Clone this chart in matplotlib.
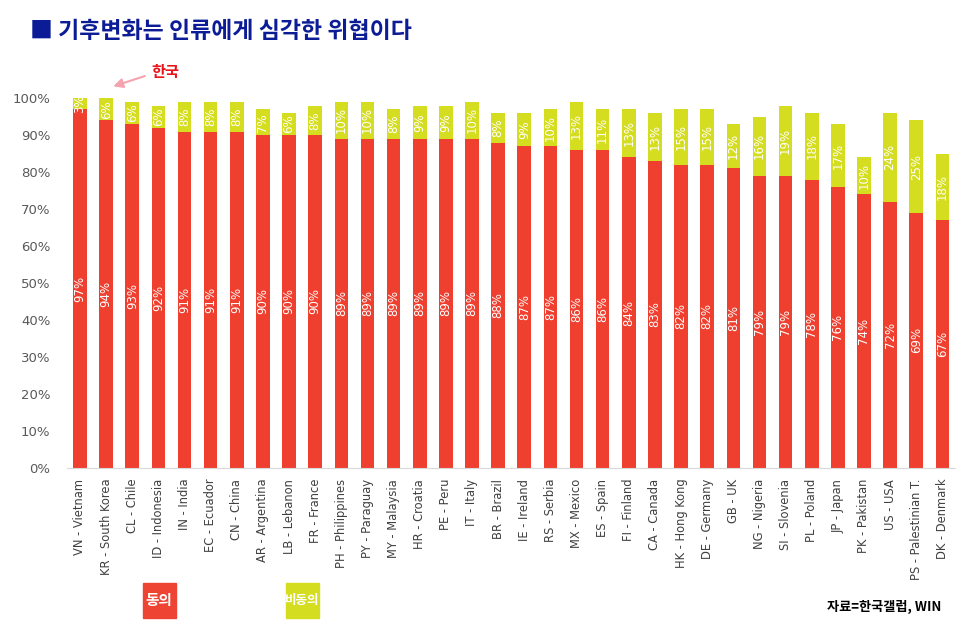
import matplotlib.pyplot as plt
from matplotlib.patches import Rectangle

plt.rcParams['font.family'] = ['Noto Sans CJK KR', 'DejaVu Sans']

countries = ['VN - Vietnam', 'KR - South Korea', 'CL - Chile', 'ID - Indonesia',
             'IN - India', 'EC - Ecuador', 'CN - China', 'AR - Argentina',
             'LB - Lebanon', 'FR - France', 'PH - Philippines', 'PY - Paraguay',
             'MY - Malaysia', 'HR - Croatia', 'PE - Peru', 'IT - Italy',
             'BR - Brazil', 'IE - Ireland', 'RS - Serbia', 'MX - Mexico',
             'ES - Spain', 'FI - Finland', 'CA - Canada', 'HK - Hong Kong',
             'DE - Germany', 'GB - UK', 'NG - Nigeria', 'SI - Slovenia',
             'PL - Poland', 'JP - Japan', 'PK - Pakistan', 'US - USA',
             'PS - Palestinian T.', 'DK - Denmark']
agree = [97, 94, 93, 92, 91, 91, 91, 90, 90, 90, 89, 89, 89, 89, 89, 89, 88,
         87, 87, 86, 86, 84, 83, 82, 82, 81, 79, 79, 78, 76, 74, 72, 69, 67]
disagree = [3, 6, 6, 6, 8, 8, 8, 7, 6, 8, 10, 10, 8, 9, 9, 10, 8,
            9, 10, 13, 11, 13, 13, 15, 15, 12, 16, 19, 18, 17, 10, 24, 25, 18]

red = '#EE3F2F'
yellow = '#D5DD20'

fig = plt.figure(figsize=(9.7, 6.32), dpi=100)
ax = fig.add_axes([0.069, 0.26, 0.916, 0.5845])

x = list(range(len(countries)))
ax.bar(x, agree, width=0.52, color=red)
ax.bar(x, disagree, width=0.52, bottom=agree, color=yellow)

for i in x:
    ax.text(i, agree[i] / 2, f'{agree[i]}%', rotation=90, ha='center',
            va='center', color='white', fontsize=8.5, family='DejaVu Sans')
    ax.text(i, agree[i] + disagree[i] / 2, f'{disagree[i]}%', rotation=90,
            ha='center', va='center', color='white', fontsize=8.5,
            family='DejaVu Sans')

ax.set_xlim(-0.5, len(countries) - 0.5)
ax.set_ylim(0, 100)
ax.set_yticks(range(0, 101, 10))
ax.set_yticklabels([f'{v}%' for v in range(0, 101, 10)], color='#595959',
                   fontsize=9.5, family='DejaVu Sans')
ax.set_xticks(x)
ax.set_xticklabels(countries, rotation=90, color='#404040', fontsize=8.3,
                   family='DejaVu Sans')
ax.tick_params(length=0, pad=8)
ax.tick_params(axis='y', pad=12)
for side in ['top', 'right', 'left']:
    ax.spines[side].set_visible(False)
ax.spines['bottom'].set_color('#d9d9d9')

fig.text(0.031, 0.95, '■ 기후변화는 인류에게 심각한 위협이다', color='#0B1C96',
         fontsize=16.5, fontweight='bold', va='center')

fig.text(0.171, 0.886, '한국', color='#E8141C', fontsize=11,
         fontweight='bold', va='center', ha='center')
ax.annotate('', xy=(0.114, 0.862), xytext=(0.152, 0.881),
            xycoords='figure fraction', textcoords='figure fraction',
            arrowprops=dict(arrowstyle='-|>', color='#F5A3AC', lw=1.5,
                            mutation_scale=14))

fig.add_artist(Rectangle((0.147, 0.022), 0.034, 0.056, color='#EE4433',
                         transform=fig.transFigure))
fig.text(0.164, 0.05, '동의', color='white', fontsize=10.5, fontweight='bold',
         ha='center', va='center')
fig.add_artist(Rectangle((0.295, 0.022), 0.034, 0.056, color=yellow,
                         transform=fig.transFigure))
fig.text(0.312, 0.05, '비동의', color='white', fontsize=9, fontweight='bold',
         ha='center', va='center')

fig.text(0.97, 0.04, '자료=한국갤럽, WIN', color='black', fontsize=9.5,
         fontweight='bold', ha='right', va='center')

fig.savefig('out.png', dpi=100)
